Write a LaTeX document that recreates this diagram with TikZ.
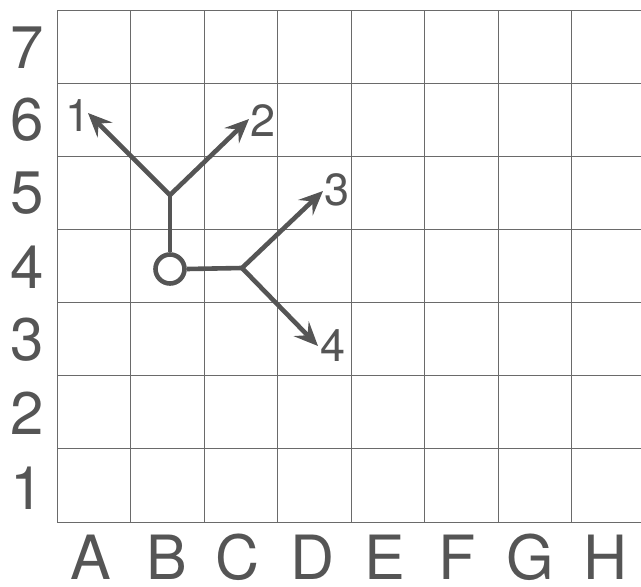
\documentclass[tikz,border=0pt]{standalone}
\usepackage{fontspec}
\setmainfont{TeX Gyre Heros}
\usetikzlibrary{arrows.meta}
\definecolor{ink}{HTML}{555555}
\definecolor{gridc}{HTML}{6A6A6A}
\begin{document}
\begin{tikzpicture}[x=1pt,y=-1pt,
  gridline/.style={draw=gridc, line width=1pt},
  rowlabel/.style={text=ink, font=\fontsize{60}{62}\selectfont, inner sep=0pt, anchor=center},
  collabel/.style={text=ink, font=\fontsize{61}{64}\selectfont, inner sep=0pt, anchor=center},
  tiplabel/.style={text=ink, font=\fontsize{45}{48}\selectfont, inner sep=0pt},
  branch/.style={draw=ink, line width=4.6pt},
  pointer/.style={branch, -{Stealth[length=24pt, width=21pt, inset=9pt]}},
  hub/.style={circle, draw=ink, line width=4.6pt, minimum size=29pt, inner sep=0pt}]
\useasboundingbox (0,0) rectangle (641,587);
\begin{scope}
\clip (0,0) rectangle (641,587);
% grid: 8 columns, 7 rows
\foreach \i in {0,...,8} \draw[gridline] (57+73.5*\i,10) -- (57+73.5*\i,522);
\foreach \j in {0,...,7} \draw[gridline] (57,10+73.15*\j) -- (660,10+73.15*\j);
\end{scope}
% row numbers
\foreach \r/\y in {7/48,6/120,5/193,4/267,3/340,2/413,1/488}
  \node[rowlabel] (row\r) at (27,\y) {\r};
% column letters
\foreach \c/\x in {A/91,B/167,C/238,D/313,E/385,F/457,G/530,H/606}
  \node[collabel] (col\c) at (\x,557) {\c};
% the branching symbol
\node[hub] (o) at (170,269) {};
\coordinate (j1) at (170,195);
\coordinate (j2) at (242,268);
\coordinate (t1) at (88,113);
\coordinate (t2) at (249,119);
\coordinate (t3) at (323,191);
\coordinate (t4) at (318,346);
\draw[branch] (o.north) -- (j1);
\draw[branch] (o.east) -- (j2);
\draw[pointer] (j1) -- (t1);
\draw[pointer] (j1) -- (t2);
\draw[pointer] (j2) -- (t3);
\draw[pointer] (j2) -- (t4);
\node[tiplabel] (n1) at (78,116) {1};
\node[tiplabel] (n2) at (263,121) {2};
\node[tiplabel] (n3) at (337,190) {3};
\node[tiplabel] (n4) at (333,346) {4};
\end{tikzpicture}
\end{document}
